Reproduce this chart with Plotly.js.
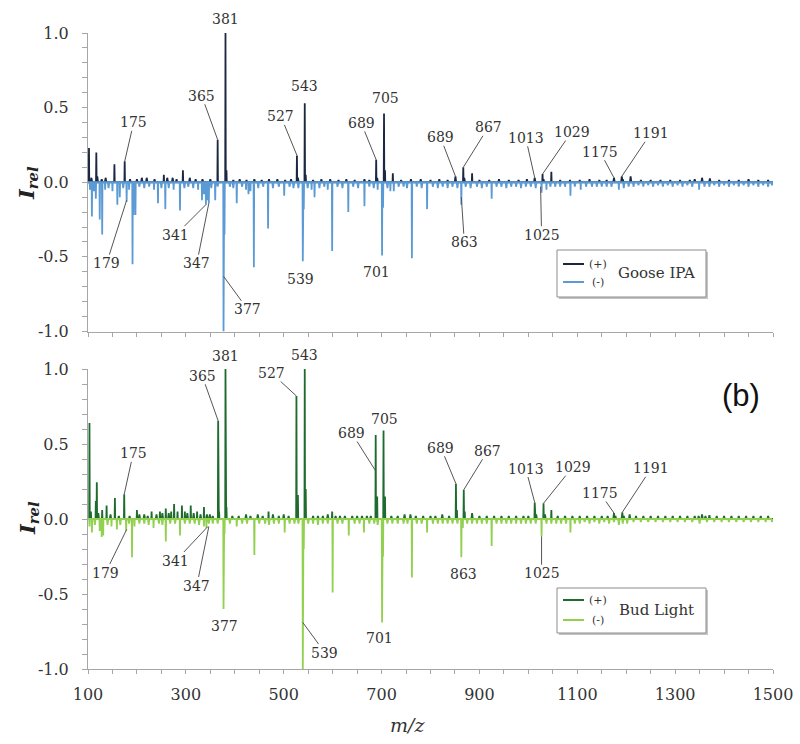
<!DOCTYPE html>
<html><head><meta charset="utf-8">
<script src="https://cdn.plot.ly/plotly-3.0.1.min.js"></script>
<style>html,body{margin:0;padding:0;background:#fff}#chart{width:800px;height:744px}</style>
</head><body><div id="chart"></div>
<script>
// ---------- DATA (m/z, relative intensity) ----------
const goosePosMz = [102,107,117,119,128,136,154,175,186,200,210,220,236,255,262,273,281,294,308,320,334,350,365,381,383,397,410,424,440,455,470,487,503,515,527,529,543,545,560,577,595,612,628,645,665,675,689,691,705,707,723,740,760,780,800,818,835,851,867,869,885,900,920,940,960,980,997,1013,1029,1031,1047,1065,1085,1105,1125,1145,1160,1175,1191,1193,1209,1230,1250,1270,1290,1310,1330,1340,1355,1371,1390,1410,1430,1450,1470,1490];
const goosePosI  = [0.23,0.03,0.20,0.04,0.02,0.03,0.12,0.14,0.02,0.02,0.03,0.03,0.02,0.05,0.03,0.03,0.02,0.08,0.03,0.02,0.02,0.02,0.285,1.0,0.08,0.015,0.02,0.015,0.02,0.015,0.02,0.02,0.015,0.02,0.18,0.03,0.53,0.05,0.015,0.02,0.02,0.015,0.02,0.015,0.02,0.015,0.15,0.03,0.46,0.08,0.06,0.015,0.02,0.02,0.015,0.02,0.015,0.04,0.10,0.03,0.06,0.015,0.015,0.02,0.015,0.015,0.02,0.03,0.055,0.02,0.07,0.015,0.015,0.015,0.02,0.015,0.015,0.03,0.04,0.02,0.04,0.015,0.015,0.015,0.015,0.015,0.015,0.02,0.03,0.025,0.015,0.015,0.015,0.02,0.015,0.015];

const gooseNegMz = [104,108,112,116,124,129,135,142,150,160,165,172,179,184,191,193,197,205,215,225,235,243,250,258,265,275,288,297,305,315,325,333,337,341,344,347,352,360,365,377,379,390,397,404,415,423,428,432,439,448,458,468,478,490,501,512,520,530,539,541,549,557,563,573,583,590,599,610,620,632,642,652,665,675,684,692,701,703,712,718,725,735,745,752,762,772,782,793,805,815,825,835,845,855,863,872,882,895,905,915,925,935,945,955,965,975,985,995,1005,1015,1027,1037,1045,1055,1065,1075,1086,1095,1107,1118,1130,1140,1150,1160,1170,1185,1195,1205,1215,1225,1235,1245,1255,1265,1275,1285,1295,1305,1315,1325,1335,1349,1360,1370,1380,1390,1400,1410,1420,1430,1440,1450,1460,1470,1480,1490,1498];
const gooseNegI  = [-0.05,-0.23,-0.06,-0.11,-0.25,-0.35,-0.05,-0.04,-0.06,-0.15,-0.10,-0.04,-0.13,-0.05,-0.55,-0.22,-0.22,-0.03,-0.04,-0.03,-0.05,-0.14,-0.04,-0.18,-0.04,-0.05,-0.19,-0.04,-0.03,-0.04,-0.05,-0.12,-0.08,-0.15,-0.12,-0.14,-0.04,-0.12,-0.03,-1.0,-0.35,-0.03,-0.04,-0.14,-0.03,-0.05,-0.08,-0.06,-0.57,-0.04,-0.03,-0.31,-0.04,-0.03,-0.09,-0.03,-0.04,-0.04,-0.53,-0.18,-0.04,-0.05,-0.10,-0.04,-0.03,-0.05,-0.46,-0.03,-0.04,-0.20,-0.03,-0.04,-0.16,-0.03,-0.04,-0.05,-0.49,-0.17,-0.04,-0.06,-0.06,-0.03,-0.03,-0.04,-0.51,-0.03,-0.04,-0.18,-0.03,-0.04,-0.03,-0.04,-0.03,-0.04,-0.15,-0.03,-0.04,-0.03,-0.04,-0.03,-0.11,-0.03,-0.03,-0.04,-0.03,-0.03,-0.04,-0.03,-0.03,-0.04,-0.07,-0.05,-0.03,-0.03,-0.03,-0.03,-0.09,-0.03,-0.05,-0.03,-0.03,-0.03,-0.03,-0.03,-0.03,-0.05,-0.04,-0.03,-0.03,-0.02,-0.03,-0.02,-0.03,-0.02,-0.03,-0.02,-0.03,-0.02,-0.03,-0.02,-0.03,-0.05,-0.03,-0.03,-0.02,-0.03,-0.02,-0.03,-0.02,-0.03,-0.02,-0.03,-0.02,-0.03,-0.02,-0.03,-0.02];

const budPosMz = [103,106,116,118,121,129,138,146,155,163,174,185,200,205,215,222,230,240,247,252,259,265,270,276,283,292,298,303,310,316,323,330,337,343,349,355,366,368,381,383,395,408,423,432,447,457,469,478,490,500,510,526,529,543,545,560,570,580,590,599,606,615,625,640,650,660,670,678,688,691,704,707,720,733,747,759,770,785,800,810,824,838,852,854,868,870,885,900,915,930,945,960,975,990,1000,1013,1016,1031,1034,1047,1060,1075,1090,1105,1120,1135,1150,1162,1175,1178,1192,1195,1207,1220,1235,1250,1265,1280,1295,1310,1325,1340,1348,1355,1362,1370,1385,1400,1415,1430,1445,1460,1475,1490];
const budPosI  = [0.64,0.05,0.12,0.245,0.04,0.06,0.09,0.03,0.14,0.02,0.165,0.02,0.06,0.03,0.03,0.02,0.05,0.03,0.05,0.04,0.07,0.04,0.05,0.10,0.05,0.09,0.05,0.04,0.09,0.04,0.05,0.03,0.08,0.03,0.03,0.02,0.655,0.05,1.0,0.08,0.02,0.02,0.03,0.02,0.03,0.02,0.05,0.03,0.02,0.03,0.02,0.82,0.16,1.0,0.20,0.02,0.02,0.02,0.03,0.05,0.02,0.02,0.02,0.02,0.02,0.02,0.02,0.02,0.56,0.15,0.59,0.15,0.02,0.02,0.03,0.03,0.02,0.02,0.02,0.02,0.03,0.02,0.235,0.06,0.195,0.05,0.04,0.02,0.02,0.02,0.02,0.02,0.02,0.02,0.02,0.11,0.03,0.105,0.03,0.06,0.02,0.02,0.02,0.02,0.02,0.02,0.02,0.02,0.04,0.02,0.045,0.02,0.03,0.02,0.02,0.02,0.02,0.02,0.02,0.02,0.02,0.02,0.02,0.03,0.02,0.025,0.02,0.02,0.02,0.02,0.02,0.02,0.02,0.02];

const budNegMz = [103,108,114,124,128,131,140,148,159,166,178,184,190,195,205,215,224,234,245,252,259,268,278,288,298,308,318,327,337,342,347,355,365,377,379,390,404,415,425,440,450,462,470,480,490,502,512,522,530,539,541,550,560,570,580,590,600,610,620,633,645,655,664,675,685,692,701,703,712,722,733,745,753,762,772,782,793,805,815,825,835,845,855,863,866,875,885,895,905,915,925,935,945,955,965,975,985,995,1005,1015,1027,1037,1047,1057,1067,1077,1086,1095,1105,1115,1125,1135,1145,1155,1165,1175,1185,1193,1202,1215,1230,1245,1260,1275,1290,1305,1320,1335,1350,1365,1380,1395,1410,1425,1440,1455,1470,1485,1498];
const budNegI  = [-0.05,-0.09,-0.04,-0.08,-0.12,-0.11,-0.04,-0.05,-0.07,-0.04,-0.08,-0.03,-0.255,-0.05,-0.03,-0.03,-0.04,-0.06,-0.03,-0.04,-0.15,-0.03,-0.03,-0.11,-0.03,-0.03,-0.03,-0.04,-0.05,-0.06,-0.03,-0.03,-0.03,-0.60,-0.10,-0.03,-0.05,-0.03,-0.03,-0.24,-0.03,-0.03,-0.04,-0.03,-0.03,-0.09,-0.03,-0.03,-0.03,-1.0,-0.20,-0.03,-0.03,-0.04,-0.03,-0.03,-0.49,-0.03,-0.03,-0.11,-0.03,-0.03,-0.09,-0.03,-0.03,-0.04,-0.69,-0.25,-0.03,-0.03,-0.03,-0.03,-0.03,-0.39,-0.03,-0.03,-0.09,-0.03,-0.03,-0.03,-0.03,-0.03,-0.03,-0.255,-0.06,-0.03,-0.03,-0.03,-0.03,-0.03,-0.18,-0.03,-0.03,-0.03,-0.03,-0.03,-0.03,-0.03,-0.03,-0.03,-0.115,-0.03,-0.03,-0.03,-0.03,-0.03,-0.09,-0.03,-0.03,-0.02,-0.03,-0.02,-0.03,-0.02,-0.03,-0.02,-0.04,-0.03,-0.03,-0.02,-0.02,-0.02,-0.02,-0.02,-0.02,-0.02,-0.02,-0.02,-0.03,-0.02,-0.02,-0.02,-0.02,-0.02,-0.02,-0.02,-0.02,-0.02,-0.02];

// peak labels: text, m/z of point, intensity of point
const topLabelText = ['381','365','175','527','543','689','705','689','867','1013','1029','1175','1191','179','341','347','377','539','701','863','1025'];
const topLabelMz   = [381,365,175,527,543,689,705,851,867,1013,1029,1175,1191,179,341,347,377,539,701,863,1025];
const topLabelI    = [1.0,0.285,0.14,0.18,0.53,0.15,0.46,0.04,0.10,0.03,0.055,0.03,0.04,-0.12,-0.15,-0.14,-0.63,-0.53,-0.49,-0.10,-0.03];
const botLabelText = ['381','365','527','543','175','689','705','689','867','1013','1029','1175','1191','179','341','347','377','539','701','863','1025'];
const botLabelMz   = [381,366,526,543,174,688,704,852,868,1013,1031,1175,1192,179,345,347,377,539,701,863,1027];
const botLabelI    = [1.0,0.655,0.82,1.0,0.165,0.32,0.59,0.235,0.195,0.11,0.105,0.04,0.045,-0.07,-0.05,-0.05,-0.6,-0.69,-0.69,-0.255,-0.115];

const yTickVals = [-1, -0.5, 0, 0.5, 1];
const yTickText = ['-1.0', '-0.5', '0.0', '0.5', '1.0'];
const xTickVals = [100, 300, 500, 700, 900, 1100, 1300, 1500];

// ---------- label placement (pixel offsets, leader line or not) ----------
const topLabelOff = [[0,-14,0],[-16,-44,1],[9,-39,1],[-16,-39,1],[0,-17,0],[-15,-37,1],[1,-16,0],[-15,-39,1],[25,-40,1],[-9,-40,1],[29,-42,1],[-14,-26,1],[29,-43,1],[-20,63,1],[-30,30,1],[-12,60,1],[24,33,1],[-2,18,0],[-6,17,0],[3,45,1],[1,48,1]];
const botLabelOff = [[0,-13,0],[-16,-45,1],[-25,-23,1],[0,-14,0],[9,-41,1],[-24,-38,1],[1,-12,0],[-15,-36,1],[24,-39,1],[-9,-34,1],[29,-36,1],[-14,-20,1],[29,-44,1],[-21,43,1],[-32,34,1],[-12,59,1],[1,17,0],[22,30,1],[-3,15,0],[2,17,0],[0,37,1]];

// build continuous spectrum line from the peak list
function spectrum(mz, inten) {
  const idx = mz.map((m, i) => i).sort((a, b) => mz[a] - mz[b]);
  const x = [100], y = [0];
  idx.forEach(i => {
    const hw = Math.abs(inten[i]) < 0.05 ? 1.5 : 0.6;
    x.push(mz[i] - hw, mz[i], mz[i] + hw);
    y.push(0, inten[i], 0);
  });
  x.push(1500); y.push(0);
  return {x, y};
}

const cGooseP = '#1c2841', cGooseN = '#5b9bd5', cBudP = '#1f6b2e', cBudN = '#92d050';
const s1 = spectrum(goosePosMz, goosePosI), s2 = spectrum(gooseNegMz, gooseNegI);
const s3 = spectrum(budPosMz, budPosI), s4 = spectrum(budNegMz, budNegI);

const traces = [
  {x: s1.x, y: s1.y, type: 'scatter', mode: 'lines', name: 'Goose IPA (+)', line: {color: cGooseP, width: 1.8}, xaxis: 'x', yaxis: 'y', showlegend: false},
  {x: s2.x, y: s2.y, type: 'scatter', mode: 'lines', name: 'Goose IPA (−)', line: {color: cGooseN, width: 1.8}, xaxis: 'x', yaxis: 'y', showlegend: false},
  {x: s3.x, y: s3.y, type: 'scatter', mode: 'lines', name: 'Bud Light (+)', line: {color: cBudP, width: 1.8}, xaxis: 'x2', yaxis: 'y2', showlegend: false},
  {x: s4.x, y: s4.y, type: 'scatter', mode: 'lines', name: 'Bud Light (−)', line: {color: cBudN, width: 1.8}, xaxis: 'x2', yaxis: 'y2', showlegend: false}
];

const W = 800, H = 744, ML = 88, MR = 27, MT = 33, MB = 75;
const PW = W - ML - MR, PH = H - MT - MB;
const px = v => (v - ML) / PW;           // pixel x -> paper
const py = v => (H - MB - v) / PH;       // pixel y -> paper

const serif = 'DejaVu Serif, Liberation Serif, serif';
const axisGrey = '#a6a6a6';

function xAxis(anchor, labels) {
  return {
    domain: [0, 1], anchor: anchor, range: [100, 1500], showgrid: false, zeroline: false,
    showline: true, linecolor: axisGrey, linewidth: 1,
    ticks: 'outside', ticklen: 4, tickcolor: axisGrey, tickmode: 'array', tickvals: xTickVals,
    minor: {tick0: 100, dtick: 50, ticks: 'outside', ticklen: 4, tickcolor: axisGrey},
    showticklabels: labels, tickfont: {family: serif, size: 16, color: '#333333'}, ticklabelstandoff: 7
  };
}
function yAxis(anchor, dom) {
  return {
    domain: dom, anchor: anchor, range: [-1, 1], showgrid: false, zeroline: false,
    showline: true, linecolor: axisGrey, linewidth: 1,
    ticks: 'outside', ticklen: 5, tickcolor: axisGrey,
    tickmode: 'array', tickvals: yTickVals, ticktext: yTickText,
    minor: {tick0: 0, dtick: 0.1, ticks: 'outside', ticklen: 5, tickcolor: axisGrey},
    tickfont: {family: serif, size: 16, color: '#333333'}, ticklabelstandoff: 10
  };
}

const annotations = [];
function addLabels(texts, mz, inten, off, xr, yr) {
  texts.forEach((t, i) => {
    const o = off[i];
    annotations.push({
      text: t, x: mz[i], y: inten[i], xref: xr, yref: yr,
      showarrow: true, arrowhead: 0, arrowwidth: 1, standoff: 0,
      arrowcolor: o[2] ? '#555555' : 'rgba(0,0,0,0)',
      ax: o[0], ay: o[1], borderpad: 0,
      font: {family: serif, size: 14, color: '#333333'}
    });
  });
}
addLabels(topLabelText, topLabelMz, topLabelI, topLabelOff, 'x', 'y');
addLabels(botLabelText, botLabelMz, botLabelI, botLabelOff, 'x2', 'y2');

function paperText(text, x, y, font, extra) {
  annotations.push(Object.assign({text: text, xref: 'paper', yref: 'paper', x: px(x), y: py(y),
    xanchor: 'center', yanchor: 'middle', showarrow: false, font: font}, extra || {}));
}
// axis titles
[183, 518].forEach(yy => paperText('<b><i>I</i></b><sub><b><i>rel</i></b></sub>', 28, yy,
  {family: serif, size: 21, color: '#222'}, {textangle: -90}));
paperText('<i>m/z</i>', 407, 725, {family: serif, size: 19, color: '#333'});
paperText('(b)', 741, 396, {family: 'Liberation Sans, Arial, sans-serif', size: 31, color: '#111'});

// legends (drawn boxes)
const shapes = [];
function legendBox(x0, y0, x1, y1, cP, cN, name, lineY1, lineY2) {
  shapes.push({type: 'rect', xref: 'paper', yref: 'paper', x0: px(x0 + 2), x1: px(x1 + 2), y0: py(y1 + 2), y1: py(y0 + 2),
    line: {width: 0}, fillcolor: '#c4c4c4'});
  shapes.push({type: 'rect', xref: 'paper', yref: 'paper', x0: px(x0), x1: px(x1), y0: py(y1), y1: py(y0),
    line: {width: 1, color: '#8c8c8c'}, fillcolor: '#ffffff'});
  shapes.push({type: 'line', xref: 'paper', yref: 'paper', x0: px(x0 + 6), x1: px(x0 + 27), y0: py(lineY1), y1: py(lineY1),
    line: {width: 2, color: cP}});
  shapes.push({type: 'line', xref: 'paper', yref: 'paper', x0: px(x0 + 6), x1: px(x0 + 27), y0: py(lineY2), y1: py(lineY2),
    line: {width: 2, color: cN}});
  paperText('(+)', x0 + 41, lineY1, {family: serif, size: 11, color: '#333'});
  paperText('(-)', x0 + 41, lineY2, {family: serif, size: 11, color: '#333'});
  paperText(name, x0 + 99, (lineY1 + lineY2) / 2, {family: serif, size: 15, color: '#333'});
}
legendBox(557, 250, 706, 297, cGooseP, cGooseN, 'Goose IPA', 264, 282);
legendBox(557, 588, 706, 633, cBudP, cBudN, 'Bud Light', 600, 620);

const layout = {
  width: W, height: H, margin: {l: ML, r: MR, t: MT, b: MB},
  paper_bgcolor: '#fff', plot_bgcolor: '#fff', showlegend: false,
  xaxis: xAxis('y', false),
  yaxis: yAxis('x', [py(331.5), 1]),
  xaxis2: xAxis('y2', true),
  yaxis2: yAxis('x2', [0, py(369)]),
  annotations: annotations, shapes: shapes
};

Plotly.newPlot('chart', traces, layout, {staticPlot: true, displayModeBar: false});
</script>
</body></html>
